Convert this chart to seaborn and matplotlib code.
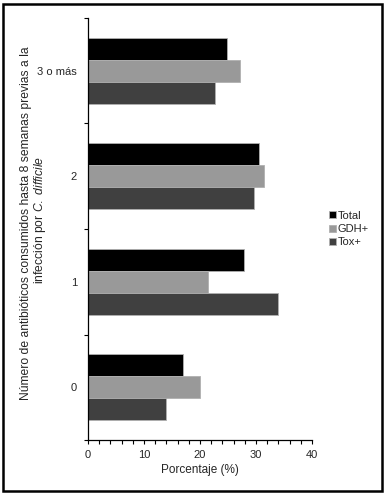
import matplotlib
matplotlib.use("Agg")
import matplotlib.pyplot as plt
from matplotlib.patches import Rectangle
from matplotlib.ticker import MultipleLocator, FixedLocator
import pandas as pd
import seaborn as sns

CATEGORIES = ["3 o más", "2", "1", "0"]
SERIES = ["Total", "GDH+", "Tox+"]
TOTAL = [24.8, 30.5, 27.8, 17.0]
GDH = [27.1, 31.4, 21.4, 20.0]
TOX = [22.6, 29.6, 33.9, 14.0]
COLORS = ["#000000", "#999999", "#404040"]

sns.set_style("white")
plt.rcParams["font.family"] = ["Liberation Sans", "DejaVu Sans"]
plt.rcParams["mathtext.fontset"] = "custom"
plt.rcParams["mathtext.it"] = "Liberation Sans:italic"
plt.rcParams["mathtext.rm"] = "Liberation Sans"

df = pd.DataFrame({
    "cat": CATEGORIES * 3,
    "serie": [s for s in SERIES for _ in CATEGORIES],
    "val": TOTAL + GDH + TOX,
})

fig = plt.figure(figsize=(3.86, 4.95), dpi=100)
ax = fig.add_axes([88 / 386, 1 - 440 / 495, 224 / 386, 422 / 495])

sns.barplot(data=df, y="cat", x="val", hue="serie", order=CATEGORIES,
            hue_order=SERIES, palette=COLORS, orient="h", width=0.625,
            gap=0, edgecolor="#b0b0b0", linewidth=0.6, ax=ax)

ax.set_xlim(0, 40)
ax.set_ylim(3.5, -0.5)
ax.xaxis.set_major_locator(MultipleLocator(10))
ax.xaxis.set_minor_locator(MultipleLocator(2))
ax.yaxis.set_minor_locator(FixedLocator([-0.5, 0.5, 1.5, 2.5, 3.5]))
ax.tick_params(axis="x", which="both", direction="out", length=3, width=0.8,
               color="black", bottom=True, labelsize=8, pad=4)
ax.tick_params(axis="y", which="major", length=0, labelsize=8, pad=8)
ax.tick_params(axis="y", which="minor", direction="out", length=3,
               width=0.8, color="black", left=True)
for s in ["top", "right"]:
    ax.spines[s].set_visible(False)
for s in ["left", "bottom"]:
    ax.spines[s].set_color("black")
    ax.spines[s].set_linewidth(0.9)

ax.set_xlabel("Porcentaje (%)", fontsize=8.5, labelpad=3)
ax.set_ylabel("")
# y label as two separate lines (second one with italic species name)
fig.text(26 / 386, 1 - 223 / 495,
         "Número de antibióticos consumidos hasta 8 semanas previas a la",
         rotation=90, ha="center", va="center", fontsize=8.7)
fig.text(40 / 386, 1 - 220 / 495,
         "infección por $\\it{C.\\ difficile}$",
         rotation=90, ha="center", va="center", fontsize=8.7)

ax.legend(loc="center left", bbox_to_anchor=((329 - 88) / 224, 0.5),
          frameon=False, fontsize=8, handlelength=0.6, handleheight=0.6,
          handletextpad=0.2, labelspacing=0.3, borderaxespad=0,
          borderpad=0)

fig.patches.append(Rectangle((3 / 386, 1 - 491 / 495), 379 / 386, 487 / 495,
                             transform=fig.transFigure, fill=False,
                             edgecolor="black", linewidth=1.8))

fig.savefig("out.png", dpi=100)
